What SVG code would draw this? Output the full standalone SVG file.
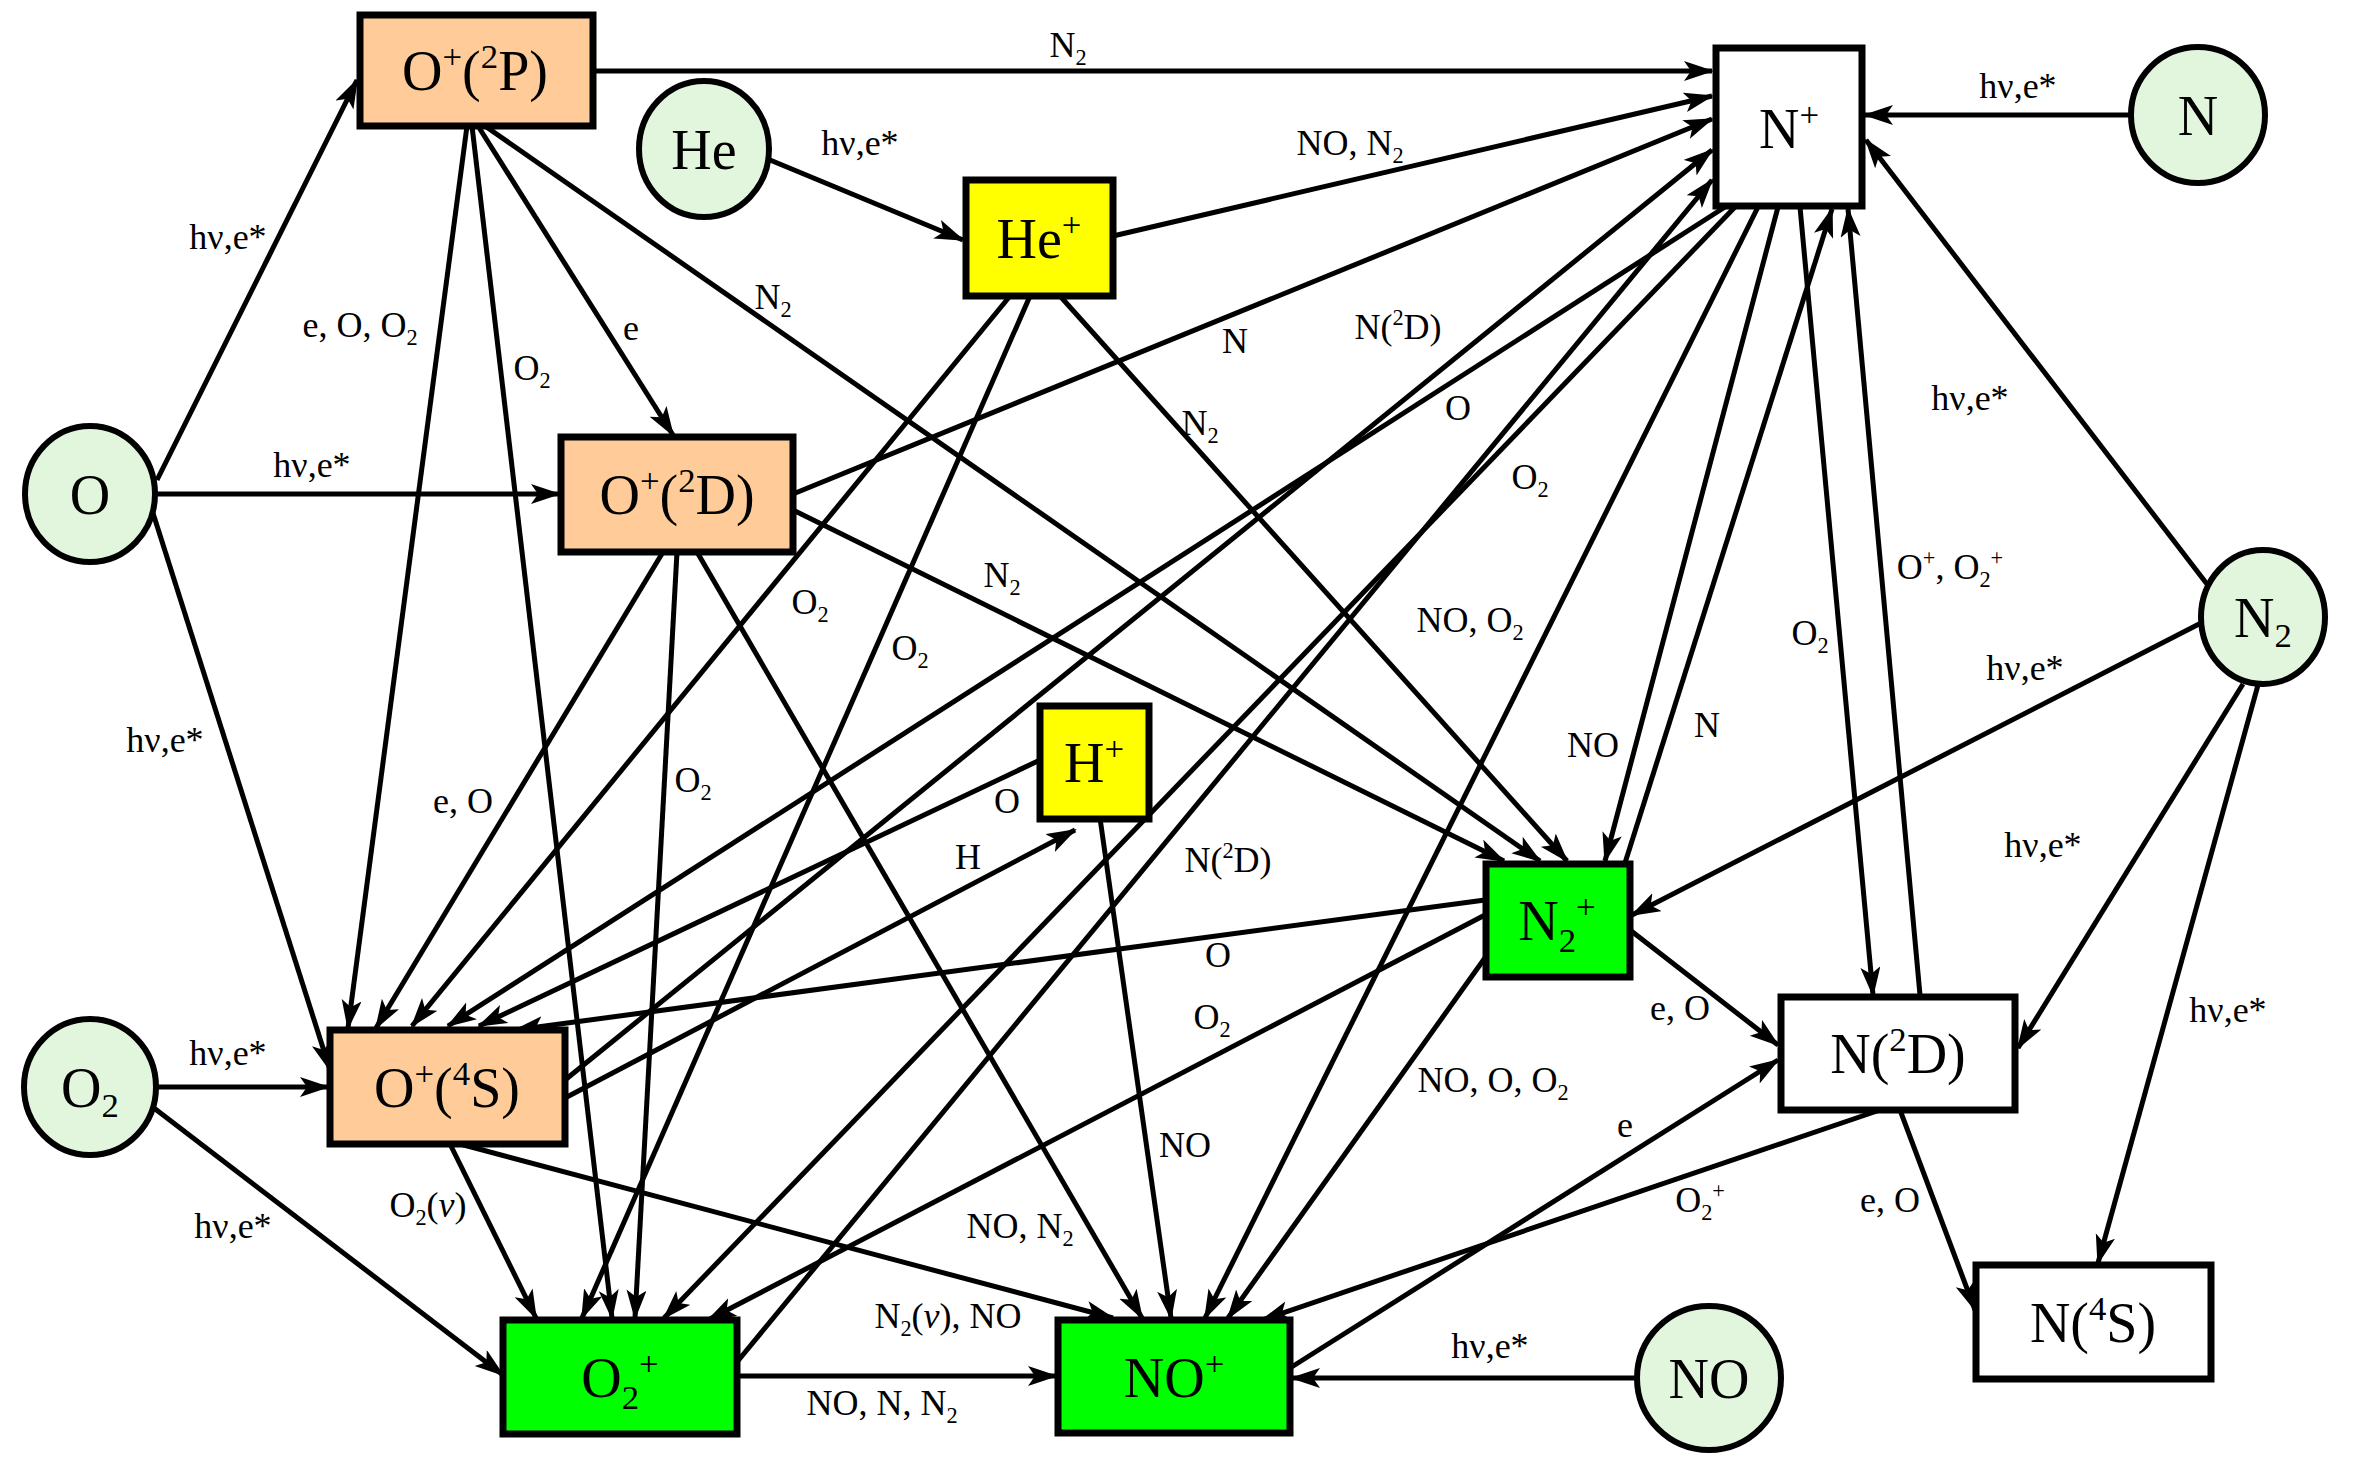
<svg xmlns="http://www.w3.org/2000/svg" width="2353" height="1469" viewBox="0 0 2353 1469">
<style>
text{font-family:"Liberation Serif","Times New Roman",serif;fill:#000;text-anchor:middle}
.l{font-size:36px}
.n{font-size:56px}
.s{font-size:0.62em}
.e line{stroke:#000;stroke-width:5;marker-end:url(#a)}
.c{fill:#E2F6DD;stroke:#000;stroke-width:6}
.b{stroke:#000;stroke-width:7}
.or{fill:#FFCC99}.ye{fill:#FFFF00}.gr{fill:#00FF00}.wh{fill:#fff}
</style>
<defs><marker id="a" markerUnits="userSpaceOnUse" markerWidth="30" markerHeight="22" refX="28" refY="10" orient="auto"><path d="M0,0 L30,10 L0,20 L7,10 z" fill="#000"/></marker></defs>
<rect width="2353" height="1469" fill="#fff"/>
<g class="e" id="edges">
<line x1="157" y1="480" x2="357" y2="80"/>
<line x1="157" y1="494" x2="559" y2="494"/>
<line x1="152" y1="510" x2="330" y2="1070"/>
<line x1="157" y1="1087" x2="328" y2="1087"/>
<line x1="150" y1="1105" x2="503" y2="1375"/>
<line x1="770" y1="160" x2="963" y2="240"/>
<line x1="593" y1="71" x2="1712" y2="71"/>
<line x1="1113" y1="236" x2="1712" y2="96"/>
<line x1="793" y1="494" x2="1712" y2="119"/>
<line x1="565" y1="1080" x2="1712" y2="150"/>
<line x1="737" y1="1362" x2="1712" y2="180"/>
<line x1="478" y1="126" x2="673" y2="435"/>
<line x1="467" y1="126" x2="348" y2="1028"/>
<line x1="472" y1="126" x2="612" y2="1318"/>
<line x1="485" y1="126" x2="1540" y2="861"/>
<line x1="663" y1="552" x2="376" y2="1028"/>
<line x1="677" y1="552" x2="635" y2="1318"/>
<line x1="697" y1="552" x2="1142" y2="1318"/>
<line x1="793" y1="510" x2="1504" y2="861"/>
<line x1="1010" y1="296" x2="412" y2="1026"/>
<line x1="1030" y1="296" x2="582" y2="1318"/>
<line x1="1060" y1="296" x2="1567" y2="861"/>
<line x1="1725" y1="207" x2="448" y2="1026"/>
<line x1="1735" y1="207" x2="664" y2="1318"/>
<line x1="1758" y1="207" x2="1205" y2="1318"/>
<line x1="1778" y1="207" x2="1605" y2="861"/>
<line x1="1800" y1="207" x2="1873" y2="995"/>
<line x1="1625" y1="863" x2="1832" y2="209"/>
<line x1="1920" y1="995" x2="1848" y2="209"/>
<line x1="2131" y1="115" x2="1865" y2="115"/>
<line x1="2210" y1="588" x2="1866" y2="140"/>
<line x1="2203" y1="622" x2="1632" y2="915"/>
<line x1="2243" y1="684" x2="2018" y2="1048"/>
<line x1="2258" y1="685" x2="2098" y2="1263"/>
<line x1="1900" y1="1110" x2="1975" y2="1310"/>
<line x1="1630" y1="930" x2="1778" y2="1045"/>
<line x1="1290" y1="1368" x2="1778" y2="1060"/>
<line x1="1880" y1="1110" x2="1262" y2="1320"/>
<line x1="1487" y1="955" x2="1228" y2="1318"/>
<line x1="1100" y1="818" x2="1171" y2="1318"/>
<line x1="460" y1="1144" x2="1113" y2="1318"/>
<line x1="450" y1="1144" x2="536" y2="1318"/>
<line x1="737" y1="1376" x2="1056" y2="1376"/>
<line x1="1637" y1="1378" x2="1292" y2="1378"/>
<line x1="1485" y1="915" x2="708" y2="1320"/>
<line x1="1485" y1="900" x2="515" y2="1030"/>
<line x1="1040" y1="760" x2="479" y2="1026"/>
<line x1="565" y1="1098" x2="1075" y2="830"/>
</g>
<g id="labels" class="l">
<text x="228" y="249">hν,e*</text>
<text x="312" y="477">hν,e*</text>
<text x="165" y="752">hν,e*</text>
<text x="228" y="1065">hν,e*</text>
<text x="233" y="1238">hν,e*</text>
<text x="860" y="155">hν,e*</text>
<text x="2018" y="98">hν,e*</text>
<text x="1970" y="410">hν,e*</text>
<text x="2025" y="680">hν,e*</text>
<text x="2043" y="857">hν,e*</text>
<text x="2228" y="1022">hν,e*</text>
<text x="1490" y="1358">hν,e*</text>
<text x="1068" y="57">N<tspan class="s" dy="8">2</tspan></text>
<text x="1350" y="155">NO, N<tspan class="s" dy="8">2</tspan></text>
<text x="1235" y="353">N</text>
<text x="1398" y="339">N(<tspan class="s" dy="-14">2</tspan><tspan dy="14">D)</tspan></text>
<text x="1458" y="420">O</text>
<text x="1530" y="489">O<tspan class="s" dy="8">2</tspan></text>
<text x="1470" y="632">NO, O<tspan class="s" dy="8">2</tspan></text>
<text x="1593" y="757">NO</text>
<text x="1707" y="737">N</text>
<text x="1810" y="645">O<tspan class="s" dy="8">2</tspan></text>
<text x="1950" y="579">O<tspan class="s" dy="-14">+</tspan><tspan dy="14">, O</tspan><tspan class="s" dy="8">2</tspan><tspan class="s" dy="-22">+</tspan></text>
<text x="360" y="337">e, O, O<tspan class="s" dy="8">2</tspan></text>
<text x="631" y="340">e</text>
<text x="532" y="380">O<tspan class="s" dy="8">2</tspan></text>
<text x="773" y="309">N<tspan class="s" dy="8">2</tspan></text>
<text x="1200" y="435">N<tspan class="s" dy="8">2</tspan></text>
<text x="810" y="614">O<tspan class="s" dy="8">2</tspan></text>
<text x="910" y="660">O<tspan class="s" dy="8">2</tspan></text>
<text x="1002" y="587">N<tspan class="s" dy="8">2</tspan></text>
<text x="463" y="813">e, O</text>
<text x="693" y="792">O<tspan class="s" dy="8">2</tspan></text>
<text x="1007" y="813">O</text>
<text x="968" y="869">H</text>
<text x="1228" y="872">N(<tspan class="s" dy="-14">2</tspan><tspan dy="14">D)</tspan></text>
<text x="1218" y="967">O</text>
<text x="1212" y="1029">O<tspan class="s" dy="8">2</tspan></text>
<text x="1493" y="1092">NO, O, O<tspan class="s" dy="8">2</tspan></text>
<text x="1680" y="1020">e, O</text>
<text x="1625" y="1137">e</text>
<text x="1700" y="1212">O<tspan class="s" dy="8">2</tspan><tspan class="s" dy="-22">+</tspan></text>
<text x="1890" y="1212">e, O</text>
<text x="1185" y="1157">NO</text>
<text x="1020" y="1238">NO, N<tspan class="s" dy="8">2</tspan></text>
<text x="948" y="1328">N<tspan class="s" dy="8">2</tspan><tspan dy="-8">(</tspan><tspan font-style="italic">v</tspan>), NO</text>
<text x="882" y="1415">NO, N, N<tspan class="s" dy="8">2</tspan></text>
<text x="428" y="1217">O<tspan class="s" dy="8">2</tspan><tspan dy="-8">(</tspan><tspan font-style="italic">v</tspan>)</text>
</g>
<g id="O"><ellipse class="c" cx="90" cy="494" rx="65" ry="68"/><text class="n" x="90" y="514">O</text></g>
<g id="He"><ellipse class="c" cx="704" cy="149" rx="65" ry="68"/><text class="n" x="704" y="169">He</text></g>
<g id="N"><ellipse class="c" cx="2198" cy="115" rx="67" ry="68"/><text class="n" x="2198" y="135">N</text></g>
<g id="N2"><ellipse class="c" cx="2263" cy="617" rx="62" ry="67"/><text class="n" x="2263" y="637">N<tspan class="s" dy="10">2</tspan></text></g>
<g id="O2"><ellipse class="c" cx="90" cy="1087" rx="66" ry="68"/><text class="n" x="90" y="1107">O<tspan class="s" dy="10">2</tspan></text></g>
<g id="NO"><ellipse class="c" cx="1709" cy="1378" rx="72" ry="72"/><text class="n" x="1709" y="1398">NO</text></g>
<g id="Op2P"><rect class="b or" x="360" y="15" width="233" height="111"/><text class="n" x="475" y="90">O<tspan class="s" dy="-22">+</tspan><tspan dy="22">(</tspan><tspan class="s" dy="-22">2</tspan><tspan dy="22">P)</tspan></text></g>
<g id="Op2D"><rect class="b or" x="561" y="437" width="232" height="115"/><text class="n" x="677" y="514">O<tspan class="s" dy="-22">+</tspan><tspan dy="22">(</tspan><tspan class="s" dy="-22">2</tspan><tspan dy="22">D)</tspan></text></g>
<g id="Op4S"><rect class="b or" x="330" y="1030" width="235" height="114"/><text class="n" x="447" y="1107">O<tspan class="s" dy="-22">+</tspan><tspan dy="22">(</tspan><tspan class="s" dy="-22">4</tspan><tspan dy="22">S)</tspan></text></g>
<g id="Hep"><rect class="b ye" x="966" y="180" width="147" height="116"/><text class="n" x="1039" y="258">He<tspan class="s" dy="-22">+</tspan></text></g>
<g id="Hp"><rect class="b ye" x="1040" y="706" width="109" height="113"/><text class="n" x="1094" y="782">H<tspan class="s" dy="-22">+</tspan></text></g>
<g id="Np"><rect class="b wh" x="1716" y="48" width="146" height="158"/><text class="n" x="1789" y="148">N<tspan class="s" dy="-22">+</tspan></text></g>
<g id="N2p"><rect class="b gr" x="1486" y="864" width="144" height="113"/><text class="n" x="1557" y="940">N<tspan class="s" dy="12">2</tspan><tspan class="s" dy="-34">+</tspan></text></g>
<g id="O2p"><rect class="b gr" x="503" y="1320" width="234" height="114"/><text class="n" x="620" y="1397">O<tspan class="s" dy="12">2</tspan><tspan class="s" dy="-34">+</tspan></text></g>
<g id="NOp"><rect class="b gr" x="1058" y="1320" width="232" height="113"/><text class="n" x="1174" y="1397">NO<tspan class="s" dy="-22">+</tspan></text></g>
<g id="N2D"><rect class="b wh" x="1781" y="997" width="234" height="113"/><text class="n" x="1898" y="1073">N(<tspan class="s" dy="-22">2</tspan><tspan dy="22">D)</tspan></text></g>
<g id="N4S"><rect class="b wh" x="1976" y="1265" width="235" height="114"/><text class="n" x="2093" y="1342">N(<tspan class="s" dy="-22">4</tspan><tspan dy="22">S)</tspan></text></g>
</svg>
